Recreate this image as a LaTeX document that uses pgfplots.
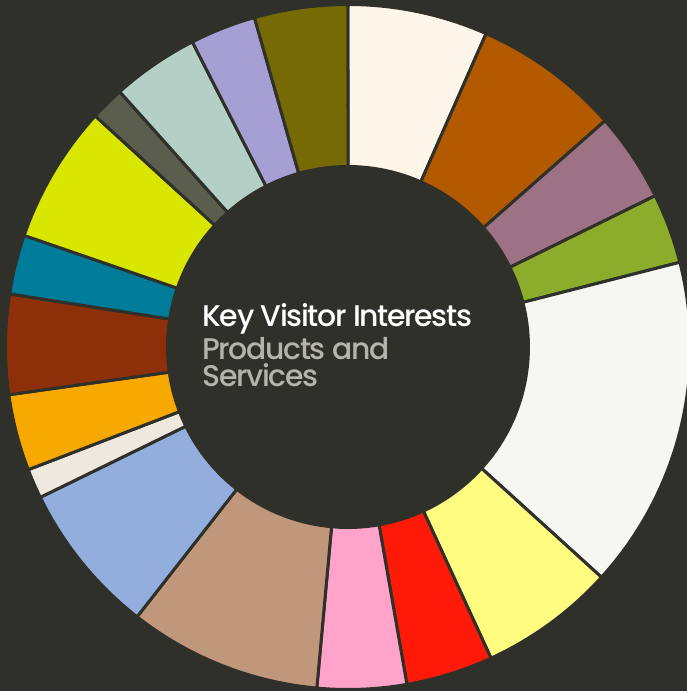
\documentclass[border=0pt]{standalone}
\usepackage{pgfplots}
\usepackage{pgfplotstable}
\pgfplotsset{compat=1.18}
\usepackage{fontspec}
\setmainfont{Poppins}
\newfontfamily\titlefont{Poppins}[UprightFont=* Medium, LetterSpace=-4.5]

\definecolor{bg}{HTML}{2F302A}
\definecolor{sCream}{HTML}{FFF6EA}
\definecolor{sBrown}{HTML}{B35A00}
\definecolor{sMauve}{HTML}{9E7285}
\definecolor{sGreen}{HTML}{8CAD2B}
\definecolor{sWhite}{HTML}{F6F6F2}
\definecolor{sYellow}{HTML}{FFFC80}
\definecolor{sRed}{HTML}{FF1A08}
\definecolor{sPink}{HTML}{FFA3CA}
\definecolor{sTan}{HTML}{C0977B}
\definecolor{sBlue}{HTML}{92AEDD}
\definecolor{sBeige}{HTML}{EFE8DE}
\definecolor{sOrange}{HTML}{F8A900}
\definecolor{sRust}{HTML}{8D2F09}
\definecolor{sTeal}{HTML}{007C9B}
\definecolor{sLime}{HTML}{D8E600}
\definecolor{sDark}{HTML}{5B5E4D}
\definecolor{sSea}{HTML}{B3CFC6}
\definecolor{sLav}{HTML}{A59FD3}
\definecolor{sOlive}{HTML}{756A04}
\definecolor{subgray}{HTML}{B5B4AC}

% share of each interest, clockwise from the top
\pgfplotstableread{
share colour
6.6  sCream
6.9  sBrown
4.2  sMauve
3.3  sGreen
15.7 sWhite
6.4  sYellow
4.1  sRed
4.2  sPink
9.1  sTan
7.2  sBlue
1.4  sBeige
3.6  sOrange
4.7  sRust
2.8  sTeal
6.5  sLime
1.6  sDark
4.1  sSea
3.1  sLav
4.4  sOlive
}\slices

\begin{document}
\begin{tikzpicture}
\begin{axis}[
    hide axis,
    scale only axis,
    x=0.02cm, y=0.02cm,
    xmin=0, xmax=687,
    ymin=0, ymax=691,
    clip=true,
]
\fill[bg] (rel axis cs:0,0) rectangle (rel axis cs:1,1);

\pgfplotstablegetrowsof{\slices}
\pgfmathtruncatemacro{\last}{\pgfplotsretval-1}
\def\total{0}
\pgfplotsforeachungrouped \i in {0,...,\last}{
  \pgfplotstablegetelem{\i}{share}\of{\slices}
  \pgfmathsetmacro{\total}{\total+\pgfplotsretval}
}
\pgfmathsetmacro{\degper}{360/\total}
\def\cum{0}
\pgfplotsforeachungrouped \i in {0,...,\last}{
  \pgfplotstablegetelem{\i}{share}\of{\slices}
  \let\v\pgfplotsretval
  \pgfplotstablegetelem{\i}{colour}\of{\slices}
  \let\col\pgfplotsretval
  \pgfmathsetmacro{\aS}{90-\degper*\cum}
  \pgfmathsetmacro{\cum}{\cum+\v}
  \pgfmathsetmacro{\aE}{90-\degper*\cum}
  \edef\slice{\noexpand\filldraw[fill=\col, draw=bg, line width=1.7pt]
     (axis cs:{348+342.5*cos(\aS)},{344+342.5*sin(\aS)})
     arc[start angle=\aS, end angle=\aE, radius=6.85cm]
     -- (axis cs:{348+180.5*cos(\aE)},{344+180.5*sin(\aE)})
     arc[start angle=\aE, end angle=\aS, radius=3.61cm] -- cycle;}
  \slice
}

\node[anchor=base west, inner sep=0pt, text=white,
      font=\titlefont\fontsize{17}{20}\selectfont] at (axis cs:202,364) {Key Visitor Interests};
\node[anchor=base west, inner sep=0pt, text=subgray,
      font=\titlefont\fontsize{17}{20}\selectfont] at (axis cs:202,331) {Products and};
\node[anchor=base west, inner sep=0pt, text=subgray,
      font=\titlefont\fontsize{17}{20}\selectfont] at (axis cs:202,304) {Services};
\end{axis}
\end{tikzpicture}
\end{document}
